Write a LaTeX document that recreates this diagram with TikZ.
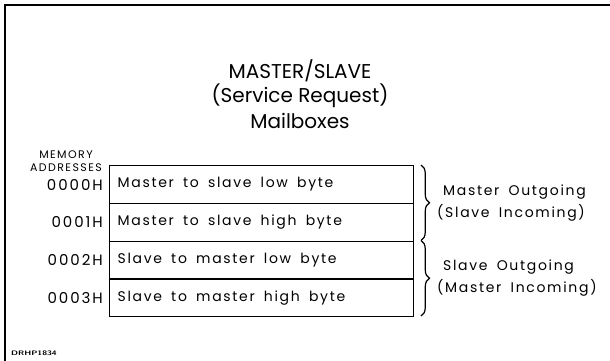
\documentclass[tikz,border=0pt]{standalone}
\usepackage{fontspec}
\usepackage{graphicx}
\setmainfont{Poppins}
\newfontfamily\plotfont[LetterSpace=12,WordSpace=1.7]{Poppins}
\newfontfamily\capsfont[LetterSpace=13]{Poppins}
\newcommand\cellline[1]{\makebox[288pt][l]{#1}}
\usetikzlibrary{decorations.pathreplacing}
\begin{document}
\begin{tikzpicture}[x=1pt,y=-1pt,
  cell/.style={draw, line width=1.3pt, anchor=north west,
    minimum height=37.75pt, inner xsep=8pt, inner ysep=0pt,
    font=\plotfont\fontsize{14}{16}\selectfont},
  addr/.style={anchor=east, inner sep=0pt, font=\capsfont\fontsize{15}{17}\selectfont},
  title/.style={inner sep=0pt, font=\fontsize{20}{22}\selectfont},
  head/.style={inner sep=0pt, font=\capsfont\fontsize{11}{12}\selectfont},
  side/.style={anchor=west, inner sep=0pt, font=\plotfont\fontsize{14}{16}\selectfont},
  bracefig/.style={decorate, line width=1.2pt,
    decoration={brace, amplitude=8.5pt, aspect=0.5}}]
  \useasboundingbox (0,0) rectangle (610,361);

  % frame
  \draw[line width=1.8pt] (5,361) -- (5,5) -- (610,5);

  % title
  \node[title] (t1) at (300,71) {MASTER/SLAVE};
  \node[title] (t2) at (300,96) {(Service Request)};
  \node[title] (t3) at (300,121) {Mailboxes};

  % column heading
  \node[head] (h1) at (66,155) {MEMORY};
  \node[head] (h2) at (66,168) {ADDRESSES};

  % mailbox cells
  \node[cell] (m0) at (109,165)    {\cellline{Master to slave low byte}};
  \node[cell] (m1) at (109,202.75) {\cellline{Master to slave high byte}};
  \node[cell] (m2) at (109,240.5)  {\cellline{Slave to master low byte}};
  \node[cell] (m3) at (109,278.25) {\cellline{Slave to master high byte}};

  % addresses
  \node[addr] (a0) at (103,184.5) {0000H};
  \node[addr] (a1) at (103,222.2) {0001H};
  \node[addr] (a2) at (103,260) {0002H};
  \node[addr] (a3) at (103,297.7) {0003H};

  % braces grouping the cells
  \coordinate (b0) at (421,165);
  \coordinate (b1) at (421,240.5);
  \coordinate (b2) at (421,316);
  \draw[bracefig] (b0) -- (b1);
  \draw[bracefig] (b1) -- (b2);

  % group labels
  \node[side] (s1) at (443,192) {Master Outgoing};
  \node[side] (s2) at (437,213) {(Slave Incoming)};
  \node[side] (s3) at (443,267) {Slave Outgoing};
  \node[side] (s4) at (437,288) {(Master Incoming)};

  % drawing number
  \node[anchor=west, inner sep=0pt, font=\sffamily\bfseries\fontsize{6.5}{7}\selectfont] (dn) at (11,353) {\scalebox{1.35}[1]{DRHP1834}};
\end{tikzpicture}
\end{document}
